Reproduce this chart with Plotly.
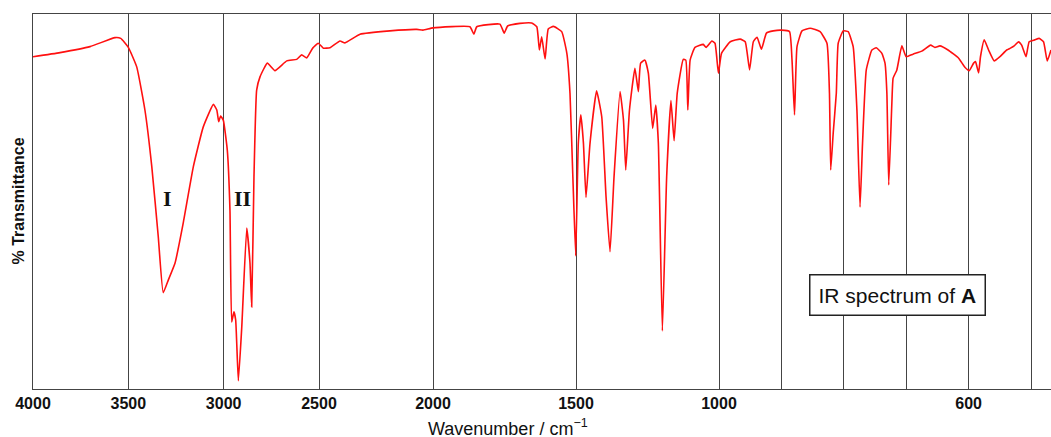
import numpy as np
import plotly.graph_objects as go

# ---------------- data ----------------
wavenumber = [4000, 3858, 3701, 3570, 3540, 3500, 3456, 3413, 3377, 3343, 3317, 3290, 3255, 3212,
              3159, 3107, 3054, 3036, 3026, 3016, 3002, 2981, 2967, 2958, 2946, 2937, 2923, 2905,
              2879, 2862, 2853, 2841, 2827, 2809, 2771, 2731, 2669, 2617, 2591, 2564, 2533, 2504,
              2481, 2452, 2408, 2386, 2320, 2189, 2071, 2044, 2000, 1871, 1857, 1847, 1766, 1751,
              1739, 1696, 1655, 1637, 1628, 1620, 1608, 1597, 1579, 1550, 1532, 1521, 1511, 1501,
              1492, 1483, 1474, 1465, 1451, 1428, 1410, 1395, 1381, 1367, 1346, 1334, 1326, 1313,
              1294, 1282, 1274, 1259, 1247, 1232, 1221, 1212, 1198, 1183, 1168, 1157, 1146, 1125,
              1116, 1109, 1101, 1084, 1055, 1045, 1025, 1014, 1002, 996, 982, 966, 958, 951, 945,
              939, 932, 924, 913, 900, 887, 883, 879, 875, 867, 854, 838, 827, 823, 821, 817, 812,
              809, 801, 793, 785, 779, 774, 770, 764, 755, 748, 739, 734, 731, 728, 723, 721, 715,
              707, 700, 689, 675, 661, 654, 646, 633, 616, 606, 599, 592, 589, 584, 581, 575, 568,
              559, 550, 539, 533, 527, 520, 515, 508, 503, 494, 487, 480, 474, 468]

transmittance = [88.6, 89.7, 91.3, 93.7, 93.5, 91.1, 85.9, 74.4, 59.3, 40.6, 25.7, 29.1, 33.6, 44.3,
                 59.3, 69.9, 75.9, 74.4, 71.3, 72.8, 71.7, 63.7, 47.7, 17.9, 20.6, 18.4, 2.2, 16.6,
                 42.9, 33.6, 21.9, 56.6, 79.7, 83.3, 86.9, 84.9, 87.5, 87.9, 89.1, 88.3, 90.9, 92.2,
                 90.9, 91.0, 92.8, 92.3, 94.6, 95.5, 95.9, 95.7, 96.3, 96.6, 94.6, 96.6, 97.3, 94.9,
                 96.8, 97.5, 97.6, 96.6, 90.4, 93.9, 88.0, 96.0, 96.7, 95.3, 89.5, 78.9, 56.6, 35.5,
                 65.5, 73.1, 65.5, 51.1, 65.5, 79.5, 72.6, 51.3, 36.6, 56.6, 79.3, 71.7, 58.4, 74.4,
                 85.5, 79.3, 86.9, 87.7, 84.2, 69.5, 75.7, 65.5, 15.5, 56.6, 76.9, 66.2, 78.9, 87.9,
                 87.7, 74.4, 87.7, 91.1, 91.9, 91.1, 92.8, 92.2, 84.2, 89.5, 92.6, 93.3, 92.6, 85.1, 92.6,
                 93.8, 90.6, 94.9, 95.5, 95.7, 95.3, 87.7, 73.1, 91.3, 95.5, 96.2, 95.3, 92.2, 78.9, 58.4, 68.2, 78.9,
                 92.2, 95.5, 95.3, 91.3, 74.4, 48.5, 65.5, 85.1, 90.4, 91.0, 89.5, 86.9, 78.9, 54.4, 76.2, 82.9, 85.1,
                 91.5, 88.6, 89.3, 90.1, 91.7, 91.1, 91.5, 90.4, 88.2, 85.8, 84.9, 86.9, 87.3, 84.3, 88.6, 93.1, 90.4,
                 87.5, 88.6, 90.4, 90.9, 91.5, 92.6, 91.7, 88.6, 92.6, 93.1, 93.5, 92.6, 87.5, 90.4]

labelled_ticks = [4000, 3500, 3000, 2500, 2000, 1500, 1000, 600]
tick_labels = ["4000", "3500", "3000", "2500", "2000", "1500", "1000", "600"]
unlabelled_grid = [900, 800, 700, 500]

band_labels = ["I", "II"]
band_wavenumbers = [3293, 2900]
band_label_level = [50.9, 50.9]

# ---------------- piecewise x scale (the axis changes scale at 2500, 2000 and 1000 cm-1) ----------------
SCALE_WN = np.array([4000, 2500, 2000, 1000, 468], dtype=float)
SCALE_POS = np.array([0, 286, 400, 686, 1018], dtype=float)


def axis_pos(w):
    return np.interp(-np.asarray(w, dtype=float), -SCALE_WN, SCALE_POS)


fig = go.Figure()
fig.add_trace(go.Scatter(
    x=axis_pos(wavenumber),
    y=transmittance,
    customdata=wavenumber,
    mode="lines",
    line=dict(color="#ff1010", width=1.6, shape="spline", smoothing=0.4),
    hovertemplate="%{customdata} cm⁻¹<br>%{y:.1f} %<extra></extra>",
    showlegend=False,
))

for lab, w, lvl in zip(band_labels, band_wavenumbers, band_label_level):
    fig.add_annotation(
        x=float(axis_pos(w)), y=lvl, xref="x", yref="y", text=f"<b>{lab}</b>",
        showarrow=False, font=dict(family="Liberation Serif", size=22, color="#111111"),
    )

fig.add_annotation(
    x=0.849, y=0.251, xref="paper", yref="paper", xanchor="center", yanchor="middle",
    text="IR spectrum of <b>A</b>", showarrow=False,
    font=dict(family="Liberation Sans", size=21, color="#111111"),
    bgcolor="white", bordercolor="#222222", borderwidth=1.5, borderpad=8,
)

# axis titles
fig.add_annotation(
    x=0.4666, y=-0.103, xref="paper", yref="paper", xanchor="center", yanchor="middle",
    text="Wavenumber / cm<sup>−1</sup>", showarrow=False,
    font=dict(family="Liberation Sans", size=18, color="#111111"),
)
fig.add_annotation(
    x=-0.0147, y=0.5, xref="paper", yref="paper", xanchor="center", yanchor="middle",
    text="% Transmittance", textangle=-90, showarrow=False,
    font=dict(family="Liberation Sans", size=16, color="#111111", weight="bold"),
)

fig.update_layout(
    width=1051, height=437,
    margin=dict(l=33, r=0, t=14, b=48),
    paper_bgcolor="white", plot_bgcolor="white",
    xaxis=dict(
        range=[0, 1018], tickmode="array",
        tickvals=axis_pos(labelled_ticks).tolist(), ticktext=tick_labels,
        showgrid=True, gridcolor="#444444", gridwidth=1,
        minor=dict(tickvals=axis_pos(unlabelled_grid).tolist(), showgrid=True,
                   gridcolor="#444444", gridwidth=1, ticks=""),
        showline=True, linecolor="#444444", linewidth=1, mirror=True,
        zeroline=False, ticks="",
        tickfont=dict(family="Liberation Sans", size=16, color="#111111", weight="bold"),
    ),
    yaxis=dict(
        range=[0, 100], showticklabels=False, showgrid=False,
        showline=True, linecolor="#444444", linewidth=1, zeroline=False, ticks="",
    ),
)

fig.write_html(
    "out.html",
    config={"displayModeBar": False},
    post_script="document.body.style.margin='0';document.body.style.overflow='hidden';",
)
